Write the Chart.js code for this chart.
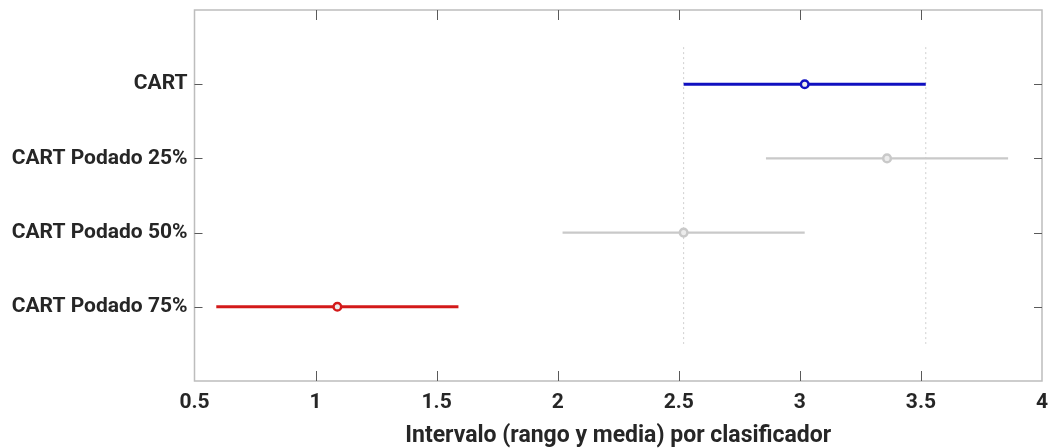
<!DOCTYPE html>
<html>
<head>
<meta charset="utf-8">
<script src="https://cdn.jsdelivr.net/npm/chart.js@4"></script>
<style>
  html, body { margin: 0; padding: 0; background: #ffffff; }
  #wrap { width: 1051px; height: 448px; }
</style>
</head>
<body>
<div id="wrap"><canvas id="c" width="1051" height="448"></canvas></div>
<script>
// Classifiers and their interval (lower bound, mean, upper bound)
const classifiers = ['CART', 'CART Podado 25%', 'CART Podado 50%', 'CART Podado 75%'];
const lowerBounds = [2.52, 2.86, 2.02, 0.59];
const means       = [3.02, 3.36, 2.52, 1.09];
const upperBounds = [3.52, 3.86, 3.02, 1.59];
const xTicks      = [0.5, 1, 1.5, 2, 2.5, 3, 3.5, 4];
const rowPositions = [1, 2, 3, 4];

// Row colours: selected group blue, significantly different red, others grey
const rowColors = ['#1010c0', '#c9c9c9', '#c9c9c9', '#d31a1a'];
const rowWidths = [3, 2.2, 2.2, 3];

const FONT = "Roboto, 'Liberation Sans', Arial, sans-serif";
const TEXT = '#262626';

const datasets = [];

// Dotted reference lines at the bounds of the selected group
[lowerBounds[0], upperBounds[0]].forEach(v => {
  datasets.push({
    data: [{ x: v, y: 0.5 }, { x: v, y: 4.5 }],
    showLine: true,
    borderColor: '#cfcfcf',
    borderWidth: 1,
    borderDash: [2, 3],
    pointRadius: 0,
    order: 5
  });
});

classifiers.forEach((name, i) => {
  // interval line
  datasets.push({
    label: name,
    data: [{ x: lowerBounds[i], y: rowPositions[i] }, { x: upperBounds[i], y: rowPositions[i] }],
    showLine: true,
    borderColor: rowColors[i],
    borderWidth: rowWidths[i],
    pointRadius: 0,
    order: 2
  });
  // mean marker
  datasets.push({
    label: name + ' media',
    data: [{ x: means[i], y: rowPositions[i] }],
    showLine: false,
    pointRadius: 3.8,
    pointBorderWidth: 2.5,
    pointBorderColor: rowColors[i],
    pointBackgroundColor: '#ececec',
    order: 1
  });
});

// Box around the plot area with inward tick marks on all four sides
const boxPlugin = {
  id: 'axesBox',
  beforeDatasetsDraw(chart) {
    const { ctx, chartArea: a, scales } = chart;
    ctx.save();
    ctx.strokeStyle = '#bdbdbd';
    ctx.lineWidth = 1.5;
    ctx.strokeRect(a.left, a.top, a.right - a.left, a.bottom - a.top);
    ctx.strokeStyle = '#5a5a5a';
    ctx.lineWidth = 1;
    xTicks.forEach(v => {
      const px = Math.round(scales.x.getPixelForValue(v)) + 0.5;
      if (px <= a.left + 1 || px >= a.right - 1) return;
      ctx.beginPath();
      ctx.moveTo(px, a.bottom); ctx.lineTo(px, a.bottom - 10);
      ctx.moveTo(px, a.top); ctx.lineTo(px, a.top + 10);
      ctx.stroke();
    });
    rowPositions.forEach(v => {
      const py = Math.round(scales.y.getPixelForValue(v)) + 0.5;
      ctx.beginPath();
      ctx.moveTo(a.left, py); ctx.lineTo(a.left + 8, py);
      ctx.moveTo(a.right, py); ctx.lineTo(a.right - 8, py);
      ctx.stroke();
    });
    ctx.restore();
  }
};

const noOverhang = s => {
  s.paddingTop = 0; s.paddingBottom = 0; s.paddingLeft = 0; s.paddingRight = 0;
};

new Chart(document.getElementById('c'), {
  type: 'scatter',
  data: { datasets },
  plugins: [boxPlugin],
  options: {
    responsive: false,
    animation: false,
    layout: { padding: { left: 0, right: 9, top: 10, bottom: 0 } },
    plugins: { legend: { display: false }, tooltip: { enabled: false } },
    scales: {
      x: {
        type: 'linear',
        min: 0.5,
        max: 4,
        afterBuildTicks: s => { s.ticks = xTicks.map(v => ({ value: v })); },
        afterFit: s => { s.height = 67; noOverhang(s); },
        grid: { display: false, drawTicks: false },
        border: { display: false },
        ticks: {
          padding: 9,
          color: TEXT,
          font: { family: FONT, size: 21, weight: 'bold' },
          maxRotation: 0,
          callback: v => String(v)
        },
        title: {
          display: true,
          text: 'Intervalo (rango y media) por clasificador',
          color: TEXT,
          font: { family: FONT, size: 23, weight: 'bold', lineHeight: 1 },
          padding: { top: 0, bottom: 0 }
        }
      },
      y: {
        type: 'linear',
        min: 0,
        max: 5,
        reverse: true,
        afterBuildTicks: s => { s.ticks = rowPositions.map(v => ({ value: v })); },
        afterFit: s => { s.width = 194.5; noOverhang(s); },
        grid: { display: false, drawTicks: false },
        border: { display: false },
        ticks: {
          padding: 7,
          color: TEXT,
          font: { family: FONT, size: 21, weight: 'bold' },
          callback: v => classifiers[rowPositions.indexOf(v)] || ''
        }
      }
    }
  }
});
</script>
</body>
</html>
